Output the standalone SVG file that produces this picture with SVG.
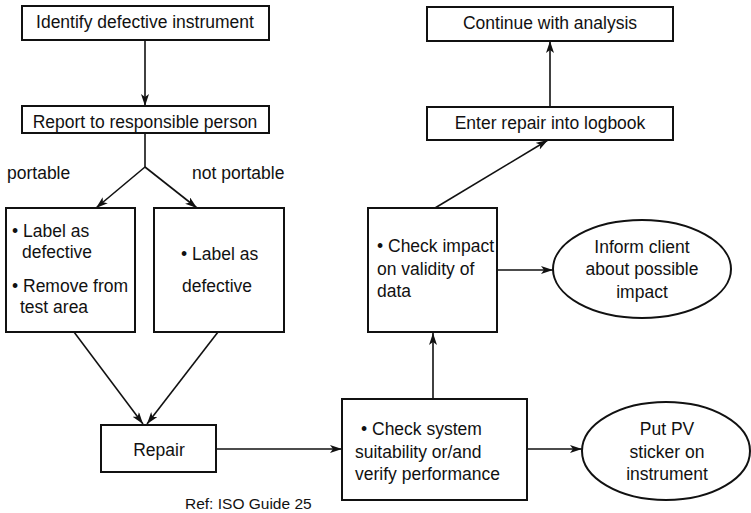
<svg xmlns="http://www.w3.org/2000/svg" width="751" height="513" viewBox="0 0 751 513">
<defs>
<marker id="ah" markerUnits="userSpaceOnUse" markerWidth="14" markerHeight="10" refX="12" refY="4" orient="auto">
<path d="M0,0 L12,4 L0,8 L3,4 z" fill="#111"/>
</marker>
<style>
.box{fill:#fff;stroke:#111;stroke-width:2}
.t{font-family:"Liberation Sans",Arial,sans-serif;font-size:17.5px;fill:#111}
.c{text-anchor:middle}
.ln{fill:none;stroke:#111;stroke-width:1.6}
.ar{fill:none;stroke:#111;stroke-width:1.6;marker-end:url(#ah)}
</style>
</defs>
<rect width="751" height="513" fill="#fff"/>

<g id="connectors">
<line class="ar" x1="145" y1="40" x2="145" y2="106"/>
<polyline class="ln" points="145,133 145,167"/>
<line class="ar" x1="145" y1="167" x2="96" y2="208"/>
<line class="ar" x1="145" y1="167" x2="197" y2="208"/>
<line class="ar" x1="74" y1="332" x2="143" y2="424"/>
<line class="ar" x1="218" y1="332" x2="147" y2="424"/>
<line class="ar" x1="216" y1="449" x2="342" y2="449"/>
<line class="ar" x1="527" y1="449" x2="582" y2="449"/>
<line class="ar" x1="433" y1="399" x2="433" y2="333"/>
<line class="ar" x1="497" y1="270" x2="553" y2="270"/>
<line class="ar" x1="435" y1="208" x2="548" y2="140"/>
<line class="ar" x1="550" y1="107" x2="550" y2="41"/>
</g>

<g id="identify">
<rect class="box" x="22" y="6" width="247" height="34"/>
<text class="t c" x="145" y="28">Identify defective instrument</text>
</g>
<g id="report">
<rect class="box" x="22" y="106" width="247" height="27"/>
<text class="t c" x="145" y="128">Report to responsible person</text>
</g>
<g id="label-portable">
<text class="t" x="7" y="179">portable</text>
</g>
<g id="label-notportable">
<text class="t" x="192" y="179">not portable</text>
</g>
<g id="portable-box">
<rect class="box" x="6" y="208" width="129" height="124"/>
<text class="t" x="12" y="237">• Label as</text>
<text class="t" x="22" y="258">defective</text>
<text class="t" x="12" y="292">• Remove from</text>
<text class="t" x="20" y="313">test area</text>
</g>
<g id="notportable-box">
<rect class="box" x="154" y="208" width="130" height="124"/>
<text class="t" x="181" y="260">• Label as</text>
<text class="t" x="182" y="292">defective</text>
</g>
<g id="repair">
<rect class="box" x="101" y="425" width="115" height="47"/>
<text class="t c" x="159" y="456">Repair</text>
</g>
<g id="check-system">
<rect class="box" x="342" y="399" width="185" height="101"/>
<text class="t" x="361" y="435">• Check system</text>
<text class="t" x="355" y="458">suitability or/and</text>
<text class="t" x="355" y="480">verify performance</text>
</g>
<g id="put-pv">
<ellipse class="box" cx="666" cy="451" rx="84" ry="49"/>
<text class="t c" x="667" y="435">Put PV</text>
<text class="t c" x="667" y="458">sticker on</text>
<text class="t c" x="667" y="480">instrument</text>
</g>
<g id="check-impact">
<rect class="box" x="368" y="208" width="129" height="124"/>
<text class="t" x="377" y="252">• Check impact</text>
<text class="t" x="377" y="275">on validity of</text>
<text class="t" x="377" y="297">data</text>
</g>
<g id="inform">
<ellipse class="box" cx="642" cy="269" rx="89" ry="49"/>
<text class="t c" x="642" y="253">Inform client</text>
<text class="t c" x="642" y="275">about possible</text>
<text class="t c" x="642" y="298">impact</text>
</g>
<g id="enter-repair">
<rect class="box" x="427" y="107" width="246" height="33"/>
<text class="t c" x="550" y="129">Enter repair into logbook</text>
</g>
<g id="continue">
<rect class="box" x="427" y="7" width="246" height="34"/>
<text class="t c" x="550" y="29">Continue with analysis</text>
</g>
<g id="ref">
<text class="t" x="185" y="509" style="font-size:15.5px">Ref: ISO Guide 25</text>
</g>
</svg>
